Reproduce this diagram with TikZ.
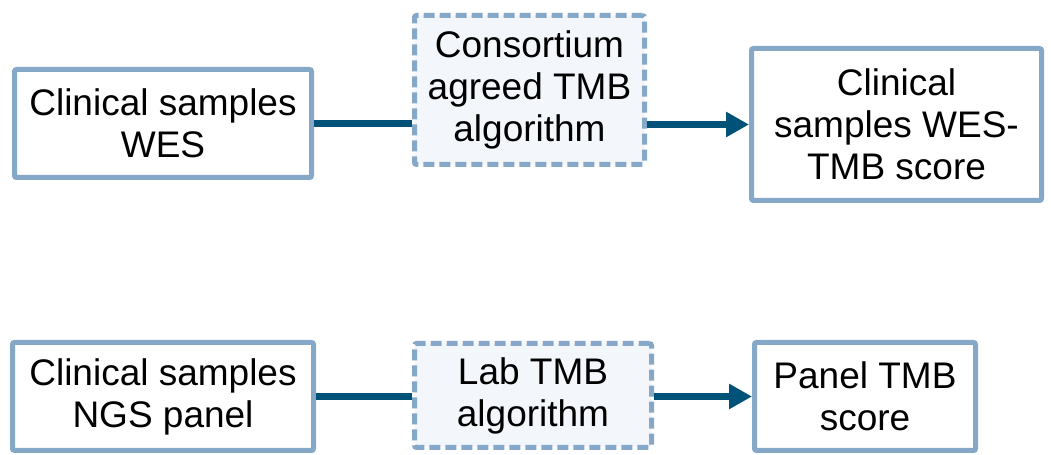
\documentclass[tikz,border=0pt]{standalone}
\usepackage{fontspec}
\setmainfont{Liberation Sans}
\usepackage{xcolor}
\usetikzlibrary{arrows.meta,positioning}

\definecolor{boxline}{RGB}{133,168,200}
\definecolor{boxfill}{RGB}{243,246,250}
\definecolor{linkblue}{RGB}{0,82,120}

\begin{document}
\begin{tikzpicture}[
    node distance=49pt,
    box/.style={draw=boxline, line width=2.5pt, rounded corners=1pt, align=center,
                inner sep=2pt, font=\fontsize{18.5}{21}\selectfont, fill=white},
    algo/.style={box, fill=boxfill, dash pattern=on 5.5pt off 2.5pt},
    link/.style={draw=linkblue, line width=3.5pt},
    arrow/.style={link, -{Triangle[length=11.5pt,width=12pt]}}
]
\useasboundingbox (0,0) rectangle (525.5pt,227.5pt);

% WES route
\node[box, minimum width=148.5pt, minimum height=54pt] (wes) at (81.5pt,165.75pt)
    {Clinical samples\\WES};
\node[algo, minimum width=115pt, minimum height=74.5pt, right=of wes, yshift=16.75pt] (cons)
    {Consortium\\agreed TMB\\algorithm};
\node[box, minimum width=145pt, minimum height=76pt, right=51pt of cons, yshift=-17.25pt] (wesscore)
    {Clinical\\samples WES-\\TMB score};

% panel route
\node[box, minimum width=150.5pt, minimum height=54pt] (ngs) at (81.5pt,29.25pt)
    {Clinical samples\\NGS panel};
\node[algo, minimum width=118.5pt, minimum height=52pt, right=48pt of ngs, yshift=0.5pt] (lab)
    {Lab TMB\\algorithm};
\node[box, minimum width=110.5pt, minimum height=54pt, right=of lab, yshift=-0.5pt] (panelscore)
    {Panel TMB\\score};

\draw[link] (wes.east) -- (wes.east -| cons.west);
\draw[arrow] (wesscore.west -| cons.east) -- (wesscore.west);
\draw[link] (ngs.east) -- (ngs.east -| lab.west);
\draw[arrow] (panelscore.west -| lab.east) -- (panelscore.west);
\end{tikzpicture}
\end{document}
